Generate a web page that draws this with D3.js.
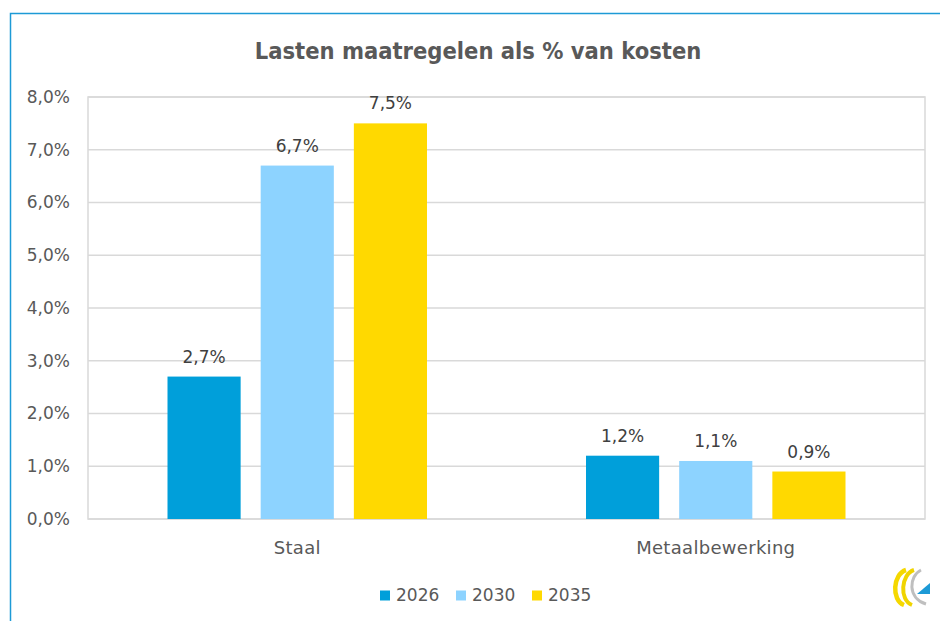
<!DOCTYPE html>
<html>
<head>
<meta charset="utf-8">
<script src="https://cdn.jsdelivr.net/npm/d3@7"></script>
<style>
  body { margin: 0; background: #fff; }
  svg { display: block; }
  text { font-family: "DejaVu Sans", sans-serif; }
  .title { font-family: "DejaVu Sans Condensed", "DejaVu Sans", sans-serif; font-stretch: condensed; }
</style>
</head>
<body>
<svg id="chart" width="940" height="621"></svg>
<script>
var width = 940;
var height = 621;

// data
var categories = ["Staal", "Metaalbewerking"];
var years = ["2026", "2030", "2035"];
var values2026 = [2.7, 1.2];
var values2030 = [6.7, 1.1];
var values2035 = [7.5, 0.9];
var yTicks = [0, 1, 2, 3, 4, 5, 6, 7, 8];
var colors = ["#009fda", "#8dd3ff", "#ffd900"];
var title = "Lasten maatregelen als % van kosten";

var series = [values2026, values2030, values2035];
var rows = categories.map(function(c, i) {
  return { cat: c, vals: years.map(function(y, j) { return { year: y, v: series[j][i] }; }) };
});

var plot = { left: 88, right: 925, top: 97, bottom: 519 };
var svg = d3.select("#chart");

// blue frame (left + top, runs off the screenshot)
svg.append("path")
  .attr("d", "M10.5," + height + " L10.5,13.5 L" + width + ",13.5")
  .attr("fill", "none")
  .attr("stroke", "#1d9ad6")
  .attr("stroke-width", 1.5);

var fmt = function(v) { return d3.format(".1f")(v).replace(".", ",") + "%"; };

var x0 = d3.scaleBand().domain(categories).range([plot.left, plot.right]).padding(0);
var inset = 79.5;
var x1 = d3.scaleBand().domain(years).range([inset, x0.bandwidth() - inset]).paddingInner(0.215);
var y = d3.scaleLinear().domain([0, 8]).range([plot.bottom, plot.top]);

// title
svg.append("text")
  .attr("class", "title")
  .attr("x", 478)
  .attr("y", 59)
  .attr("text-anchor", "middle")
  .attr("font-size", 23.5)
  .attr("font-weight", "bold")
  .attr("fill", "#595959")
  .text(title);

// gridlines
svg.append("g").selectAll("line").data(yTicks).enter().append("line")
  .attr("x1", plot.left).attr("x2", plot.right)
  .attr("y1", function(d) { return y(d); })
  .attr("y2", function(d) { return y(d); })
  .attr("stroke", "#d9d9d9")
  .attr("stroke-width", 1.5);

// plot border
svg.append("rect")
  .attr("x", plot.left).attr("y", plot.top)
  .attr("width", plot.right - plot.left).attr("height", plot.bottom - plot.top)
  .attr("fill", "none").attr("stroke", "#d9d9d9").attr("stroke-width", 1.5);

// y axis labels
var yAxis = d3.axisLeft(y).tickValues(yTicks).tickFormat(fmt).tickSize(0).tickPadding(18);
var ya = svg.append("g").attr("transform", "translate(" + plot.left + ",0)").call(yAxis);
ya.select(".domain").remove();
ya.selectAll("text").attr("font-size", 17).attr("fill", "#595959")
  .style("font-family", "\"DejaVu Sans\", sans-serif");

// bars
var groups = svg.append("g").selectAll("g").data(rows).enter().append("g")
  .attr("transform", function(d) { return "translate(" + x0(d.cat) + ",0)"; });

groups.selectAll("rect").data(function(d) { return d.vals; }).enter().append("rect")
  .attr("x", function(d) { return x1(d.year); })
  .attr("y", function(d) { return y(d.v); })
  .attr("width", x1.bandwidth())
  .attr("height", function(d) { return y(0) - y(d.v); })
  .attr("fill", function(d, i) { return colors[i]; });

groups.selectAll("text").data(function(d) { return d.vals; }).enter().append("text")
  .attr("x", function(d) { return x1(d.year) + x1.bandwidth() / 2; })
  .attr("y", function(d) { return y(d.v) - 14; })
  .attr("text-anchor", "middle")
  .attr("font-size", 17)
  .attr("fill", "#404040")
  .text(function(d) { return fmt(d.v); });

// x axis labels
var xAxis = d3.axisBottom(x0).tickSize(0);
var xa = svg.append("g").attr("transform", "translate(0," + plot.bottom + ")").call(xAxis);
xa.select(".domain").remove();
xa.selectAll("text").attr("y", 34.5).attr("dy", 0)
  .attr("font-size", 18).attr("fill", "#595959")
  .style("letter-spacing", "0.3px")
  .style("font-family", "\"DejaVu Sans\", sans-serif");

// legend
var legendX = [380, 456, 532];
var leg = svg.append("g").selectAll("g").data(years).enter().append("g")
  .attr("transform", function(d, i) { return "translate(" + legendX[i] + ",590.5)"; });
leg.append("rect").attr("width", 10).attr("height", 10)
  .attr("fill", function(d, i) { return colors[i]; });
leg.append("text").attr("x", 16).attr("y", 10.5)
  .attr("font-size", 17).attr("fill", "#595959")
  .text(function(d) { return d; });

// logo
var logo = svg.append("g");
logo.append("path")
  .attr("d", "M906,570 C893,574 891,600 904,605")
  .attr("fill", "none").attr("stroke", "#f5d800").attr("stroke-width", 4.5);
logo.append("path")
  .attr("d", "M914,570 C901,574 899,600 912,605")
  .attr("fill", "none").attr("stroke", "#f0d400").attr("stroke-width", 4);
logo.append("path")
  .attr("d", "M921,570 C909,576 907,598 926,604")
  .attr("fill", "none").attr("stroke", "#bfbfbf").attr("stroke-width", 3);
logo.append("path")
  .attr("d", "M917,594 L930,583 L930,594 Z")
  .attr("fill", "#1d9ad6");
</script>
</body>
</html>
